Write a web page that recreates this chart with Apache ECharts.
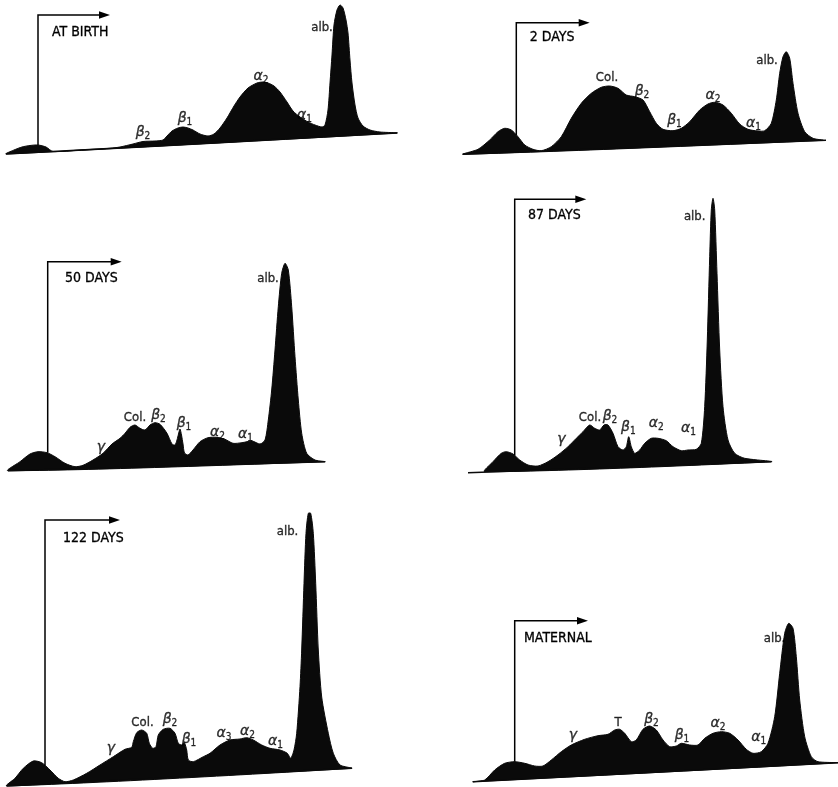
<!DOCTYPE html>
<html>
<head>
<meta charset="utf-8">
<title>Serum protein electrophoresis</title>
<script src="https://cdn.jsdelivr.net/npm/echarts@6/dist/echarts.min.js"></script>
<style>
  html, body { margin: 0; padding: 0; background: #ffffff; }
  #chart { width: 838px; height: 787px; }
</style>
</head>
<body>
<div id="chart"></div>
<script>
// Densitometer scans of serum electrophoresis strips.
// Each scan: [position along strip, optical density] in arbitrary units.

const panelTitles = ['AT BIRTH', '2 DAYS', '50 DAYS', '87 DAYS', '122 DAYS', 'MATERNAL'];

// ---- at birth ----
const traceBirth = [
  [6,6],[14,10],[22,13],[30,14.5],[38,15],[46,13],[53,8.5],[80,10],[110,11.7],
  [120,13],[133,16],[143,18.5],[155,19],[163,20],[167,24],[172,29],[178,32],[183,33],
  [188,32],[193,30],[200,26],[208,24],[214,26],[220,32],[227,42],[234,54],[240,63],
  [248,72],[257,77],[263,78],[268,77],[274,74],[280,68],[287,58],[293,49],[300,43],
  [308,38],[315,35],[322,33],[325,35],[328,50],[330,77],[332,105],[334,135],[337,150],
  [340,155],[343,152],[346,140],[348,127],[350,100],[352,77],[355,55],[358,42],
  [363,34],[370,30],[380,28],[397,27]
];
const baseBirth = [[6,6],[397,27]];
const labelsBirth = [[143,27.5,'β','2'],[185,41.5,'β','1'],[261,83.5,'α','2'],[304.5,45,'α','1'],[322,132.5,'alb.']];

// ---- 2 days ----
const trace2d = [
  [45,5.7],[60,10.7],[71.7,20],[80,28.3],[86.7,31.7],[93.3,30],[100,23.3],[106.7,15],
  [115,10.7],[123.3,9.3],[133.3,13.3],[143.3,23.3],[153.3,41.7],[163.3,56.7],[173.3,66.7],
  [183.3,72.7],[191.7,74],[200,71.7],[208.3,65],[216.7,63.3],[225,60],[231.7,48.3],
  [238.3,36.7],[245,30.7],[255,29.3],[263.3,31.7],[271.7,38.3],[281.7,50],[290,56],
  [296.7,57.7],[305,55],[313.3,46.7],[321.7,36],[330,30.7],[340,29],[346.7,29.3],
  [353.3,36.7],[358.3,60],[361.7,86.7],[365,103.3],[368.3,108.3],[371.7,101.7],
  [375,76.7],[380,46.7],[386.7,28.3],[395,21.7],[405,19.7]
];
const base2d = [[45,5.7],[408,19.7]];
const labels2d = [[189,82.5,'Col.'],[224,68.3,'β','2'],[256.5,40,'β','1'],[295,65,'α','2'],[335.5,37,'α','1'],[349,99,'alb.']];

// ---- 50 days ----
const trace50d = [
  [8,9.3],[20,18.3],[30,26],[38,28.3],[47,27.3],[55,23.3],[65,16.7],[75,13.3],[83,14.7],
  [93,20],[103,26.7],[112,36],[120,41.7],[125,46.7],[130,52.7],[135,55],[140,51.7],
  [145,50],[150,55],[155,57.3],[160,55.7],[167,46.7],[172,36],[175,35],[177,40],
  [178.5,46],[180,51],[181.5,45],[183,36],[184.5,27],[188,25],[193,30],[200,38.3],
  [208,42.3],[217,42.7],[225,40.7],[233,36.7],[242,37.3],[252,39],[260,36],[265,40],
  [268.3,60],[271.7,90],[275,130],[278.3,173.3],[281.7,206.7],[285,216.7],[288.3,210],
  [291.7,173.3],[295,123.3],[298.3,80],[301.7,46.7],[306.7,26.7],[315,20],[325,18.3]
];
const base50d = [[8,9.3],[325,18.3]];
const labels50d = [[101,32.5,'γ'],[135,62.5,'Col.'],[158.5,64.5,'β','2'],[184,57,'β','1'],[217.5,48,'α','2'],[245.5,46,'α','1'],[268,201,'alb.']];

// ---- 87 days ----
const trace87d = [
  [66.7,8.3],[75,18.3],[83.3,26.7],[88.3,28.3],[95,26],[101.7,20],[110,15],[120,14],
  [130,18.3],[140,25],[150,33.3],[158.3,41.7],[165,48.3],[171.7,55],[176.7,51.7],
  [181.7,50],[186,55],[190,55],[195,46.7],[200,33.3],[205,30],[208.3,33.3],[210.7,43.3],
  [213.3,33.3],[216.7,26.7],[221.7,30],[226.7,36.7],[233.3,41.7],[240,41.7],[248.3,39.3],
  [255,33.3],[263.3,29.3],[270,30],[278.3,30.7],[283.3,36.7],[286.7,73.3],[289.3,140],
  [291.7,223.3],[293.3,270],[295,281.7],[296.7,270],[299,206.7],[301.7,130],[305,73.3],
  [310,40],[316.7,26.7],[326.7,21.7],[353.3,18.3]
];
const base87d = [[50,7.3],[353.3,18.3]];
const labels87d = [[143.5,41,'γ'],[172,62.5,'Col.'],[192,63.5,'β','2'],[210.3,52.5,'β','1'],[238.3,57,'α','2'],[270.5,52,'α','1'],[276.7,263.3,'alb.']];

// ---- 122 days ----
const trace122d = [
  [6.7,1],[15,8.7],[23.3,18.7],[33.3,26],[41.7,24.3],[50,17],[58.3,8.7],[65,5.3],[73.3,7],
  [86.7,13.7],[100,22],[113.3,30.3],[125,37.7],[131.7,39.7],[133.3,45.3],[136.7,54.3],
  [141.7,57],[146.7,53.7],[149.3,43.7],[152.7,38.7],[156,40.3],[158.3,52],[163.3,57.7],
  [170,58.7],[175,53.7],[178.3,43.7],[181.7,42],[184.3,44.3],[186.7,37],[188.3,27],
  [193.3,25.3],[203.3,30.3],[210,33.7],[220,42],[230,47],[240,48],[246.7,49.3],[253.3,47],
  [261.7,42],[270,38.7],[280,37],[287.3,33.7],[290.7,28.7],[294,37],[296.7,53.7],
  [300,100.3],[301.7,137],[304,203.7],[306,253.7],[308.3,273.7],[310.7,273.7],
  [313.3,253.7],[315.7,203.7],[318.3,137],[321.7,90],[328.3,53.7],[333.3,33.7],
  [340,22],[351.7,18.7]
];
const base122d = [[6.7,1],[352,18.7]];
const labels122d = [[110.8,39,'γ'],[142.5,64,'Col.'],[170,68,'β','2'],[189,48,'β','1'],[224,54,'α','3'],[247.5,56,'α','2'],[275.5,45.3,'α','1'],[287.5,255.3,'alb.']];

// ---- maternal ----
const traceMaternal = [
  [55,5.3],[66.7,7],[76.7,17],[86.7,23.7],[96.7,25.3],[106.7,23.7],[116.7,21],[125,21],
  [133.3,27],[143.3,35.3],[153.3,42],[166.7,47.7],[180,51.3],[190,52.7],[196.7,57],
  [201.7,57.7],[206.7,53.7],[213.3,45.3],[218.3,47],[225,57.7],[231.7,61],[238.3,57],
  [245,47],[251.7,40.3],[258.3,41],[263.3,43.7],[271.7,42],[280,42],[286.7,48.7],
  [295,53.7],[303.3,55.3],[311.7,53.7],[320,47],[328.3,37.7],[335,33.7],[343.3,35.3],
  [350,43.7],[356.7,70.3],[361.7,113.7],[366.7,153.7],[370.7,163.7],[375,158.7],
  [378.3,130.3],[381.7,87],[386.7,50.3],[393.3,30.3],[400,25.3],[420,24.3]
];
const baseMaternal = [[55,5.3],[420,24.3]];
const labelsMaternal = [[155,52,'γ'],[200,64.5,'T'],[233.5,68,'β','2'],[264,52,'β','1'],[300,64,'α','2'],[340.8,49.5,'α','1'],[356.5,148.7,'alb.']];

const traces = [traceBirth, trace2d, trace50d, trace87d, trace122d, traceMaternal];
const baselines = [baseBirth, base2d, base50d, base87d, base122d, baseMaternal];
const peakLabels = [labelsBirth, labels2d, labels50d, labels87d, labels122d, labelsMaternal];

// Panel layout: grid box in pixels, and the arrow frame (in data units) of each scan.
const layout = [
  { box: { left: 0,   top: 0,   width: 420, height: 160 }, frame: { x: 38,   bottom: 15,   top: 145,   tip: 110,   title: 52,  titleY: 127.5 } },
  { box: { left: 418, top: 0,   width: 420, height: 160 }, frame: { x: 98.3, bottom: 25,   top: 137.3, tip: 171.7, title: 111.7, titleY: 123 } },
  { box: { left: 0,   top: 240, width: 420, height: 240 }, frame: { x: 47.7, bottom: 27.3, top: 218.3, tip: 121.7, title: 65,  titleY: 201.5 } },
  { box: { left: 418, top: 190, width: 420, height: 290 }, frame: { x: 96.7, bottom: 24.5, top: 280.7, tip: 168.3, title: 110, titleY: 264.7 } },
  { box: { left: 0,   top: 500, width: 420, height: 287 }, frame: { x: 45,   bottom: 21.5, top: 267,   tip: 120,   title: 63,  titleY: 249 } },
  { box: { left: 418, top: 590, width: 420, height: 197 }, frame: { x: 96.7, bottom: 25.3, top: 166.3, tip: 170,   title: 106, titleY: 149 } }
];

const INK = '#000000';
const SANS = '"DejaVu Sans Condensed", "Liberation Sans", sans-serif';

const grids = [], xAxes = [], yAxes = [], series = [];

layout.forEach((panel, i) => {
  grids.push(Object.assign({ containLabel: false }, panel.box));
  xAxes.push({ type: 'value', gridIndex: i, min: 0, max: panel.box.width, show: false });
  yAxes.push({ type: 'value', gridIndex: i, min: 0, max: panel.box.height, show: false });

  const trace = traces[i];
  const base = baselines[i];

  // filled scan with its baseline
  series.push({
    type: 'custom',
    name: panelTitles[i],
    coordinateSystem: 'cartesian2d',
    xAxisIndex: i, yAxisIndex: i,
    silent: true,
    data: trace,
    encode: { x: 0, y: 1 },
    renderItem: (params, api) => {
      if (params.dataIndex !== 0) return null;
      const pts = trace.map(p => api.coord(p));
      const b0 = api.coord(base[0]);
      const b1 = api.coord(base[1]);
      return {
        type: 'group',
        children: [
          { type: 'polygon', shape: { points: pts, smooth: 0.25 },
            style: { fill: '#0a0a0a', stroke: '#0a0a0a', lineWidth: 1, lineJoin: 'round' } },
          { type: 'line', shape: { x1: b0[0], y1: b0[1], x2: b1[0], y2: b1[1] },
            style: { stroke: '#0a0a0a', lineWidth: 1.6 } }
        ]
      };
    }
  });

  // arrow frame with the scan title
  const f = panel.frame;
  series.push({
    type: 'custom',
    coordinateSystem: 'cartesian2d',
    xAxisIndex: i, yAxisIndex: i,
    silent: true,
    data: [[f.x, f.top]],
    renderItem: (params, api) => {
      const a = api.coord([f.x, f.bottom]);
      const c = api.coord([f.x, f.top]);
      const t = api.coord([f.tip, f.top]);
      const tt = api.coord([f.title, f.titleY]);
      return {
        type: 'group',
        children: [
          { type: 'polyline', shape: { points: [a, c, [t[0] - 10, t[1]]] },
            style: { stroke: INK, lineWidth: 1.5, fill: null } },
          { type: 'polygon', shape: { points: [[t[0], t[1]], [t[0] - 11, t[1] - 3.8], [t[0] - 11, t[1] + 3.8]] },
            style: { fill: INK } },
          { type: 'text', x: tt[0], y: tt[1],
            style: { text: panelTitles[i], fill: INK, fontSize: 14, fontFamily: SANS,
                     textAlign: 'left', textVerticalAlign: 'middle',
                     stroke: INK, lineWidth: 0.3 } }
        ]
      };
    }
  });

  // fraction labels
  series.push({
    type: 'scatter',
    xAxisIndex: i, yAxisIndex: i,
    silent: true,
    symbolSize: 0,
    data: peakLabels[i].map(l => ({ value: [l[0], l[1]], name: l[2] })),
    label: {
      show: true,
      position: 'inside',
      color: INK,
      textBorderColor: INK,
      textBorderWidth: 0.35,
      formatter: p => {
        const d = peakLabels[i][p.dataIndex];
        if (d[3]) return '{g|' + d[2] + '}{s|' + d[3] + '}';
        if (d[2].length === 1 && d[2] !== 'T') return '{g|' + d[2] + '}';
        return '{t|' + d[2] + '}';
      },
      rich: {
        g: { fontFamily: 'DejaVu Sans', fontStyle: 'italic', fontSize: 14, color: INK, lineHeight: 18,
             textBorderColor: INK, textBorderWidth: 0.35 },
        s: { fontFamily: SANS, fontSize: 10, color: INK, lineHeight: 18, verticalAlign: 'bottom', padding: [8, 0, 0, 0],
             textBorderColor: INK, textBorderWidth: 0.3 },
        t: { fontFamily: SANS, fontSize: 13, color: INK, lineHeight: 18,
             textBorderColor: INK, textBorderWidth: 0.35 }
      }
    }
  });
});

const chart = echarts.init(document.getElementById('chart'), null, { renderer: 'canvas' });
chart.setOption({
  backgroundColor: '#ffffff',
  animation: false,
  grid: grids,
  xAxis: xAxes,
  yAxis: yAxes,
  series: series
});
</script>
</body>
</html>
